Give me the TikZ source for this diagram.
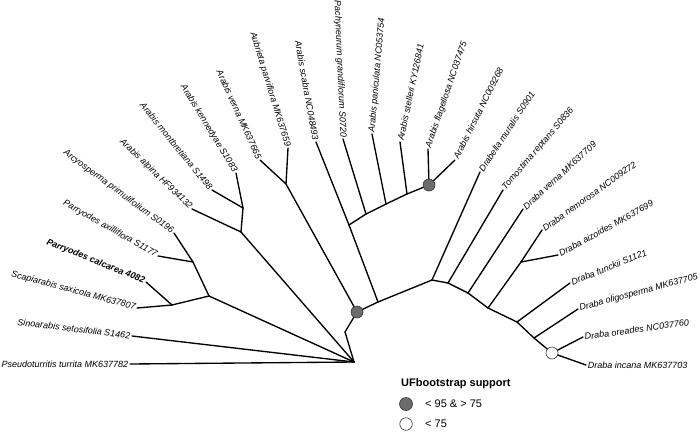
\documentclass[tikz,border=0pt]{standalone}
\usepackage{fontspec}
\setmainfont{Liberation Sans}
\begin{document}
\begin{tikzpicture}[x=1pt,y=-1pt,
  br/.style={line width=1.35pt,line cap=round,line join=round},
  lblL/.style={anchor=east,inner sep=1.6pt,font=\fontsize{9}{10}\selectfont\itshape},
  lblR/.style={anchor=west,inner sep=1.6pt,font=\fontsize{9}{10}\selectfont\itshape},
  greydot/.style={circle,draw=black!80,line width=0.6pt,fill={rgb,255:red,108;green,108;blue,108},minimum size=12pt,inner sep=0pt},
  whitedot/.style={circle,draw=black!80,line width=0.6pt,fill=white,minimum size=12pt,inner sep=0pt}]
\useasboundingbox (0,0) rectangle (700,431);
% internal nodes
\coordinate (R) at (354,362);
\coordinate (A) at (209,296);
\coordinate (A1) at (172,305);
\coordinate (A2) at (193,262);
\coordinate (B) at (241,232);
\coordinate (B1) at (243,208);
\coordinate (D) at (345,332);
\coordinate (G1) at (357,312);
\coordinate (C) at (286,184);
\coordinate (H) at (378,302);
\coordinate (E) at (349,225);
\coordinate (E1) at (366,214);
\coordinate (E2) at (386,204);
\coordinate (E3) at (407,194);
\coordinate (G2) at (429,185);
\coordinate (I) at (432,280);
\coordinate (J1) at (448,283);
\coordinate (J2) at (468,293);
\coordinate (J3) at (488,308);
\coordinate (K) at (521,262);
\coordinate (J4) at (517,322);
\coordinate (J5) at (534,338);
\coordinate (W) at (552,353);
% tips
\coordinate (tPse) at (130,364);
\coordinate (tSin) at (132,336);
\coordinate (tSca) at (137,308);
\coordinate (tPca) at (146,282);
\coordinate (tPax) at (158,256);
\coordinate (tArc) at (174,233);
\coordinate (tAal) at (192,209);
\coordinate (tAmo) at (212,190);
\coordinate (tAke) at (236,173);
\coordinate (tAve) at (260,160);
\coordinate (tAub) at (288,148);
\coordinate (tAsc) at (316,142);
\coordinate (tPac) at (343,139);
\coordinate (tApa) at (372,134);
\coordinate (tAst) at (400,142);
\coordinate (tAfl) at (428,149);
\coordinate (tAhi) at (455,160);
\coordinate (tDmu) at (480,172);
\coordinate (tTre) at (503,190);
\coordinate (tDve) at (523,209);
\coordinate (tDne) at (542,230);
\coordinate (tDai) at (558,255);
\coordinate (tDfu) at (570,283);
\coordinate (tDol) at (578,309);
\coordinate (tDor) at (583,337);
\coordinate (tDin) at (586,365);
% branches
\draw[br] (R) -- (tPse);
\draw[br] (R) -- (tSin);
\draw[br] (R) -- (A);
\draw[br] (A) -- (A1);
\draw[br] (A1) -- (tSca);
\draw[br] (A1) -- (tPca);
\draw[br] (A) -- (A2);
\draw[br] (A2) -- (tPax);
\draw[br] (A2) -- (tArc);
\draw[br] (R) -- (B);
\draw[br] (B) -- (tAal);
\draw[br] (B) -- (B1);
\draw[br] (B1) -- (tAmo);
\draw[br] (B1) -- (tAke);
\draw[br] (R) -- (D);
\draw[br] (D) -- (G1);
\draw[br] (G1) -- (C);
\draw[br] (C) -- (tAve);
\draw[br] (C) -- (tAub);
\draw[br] (G1) -- (H);
\draw[br] (H) -- (E);
\draw[br] (E) -- (tAsc);
\draw[br] (E) -- (E1);
\draw[br] (E1) -- (tPac);
\draw[br] (E1) -- (E2);
\draw[br] (E2) -- (tApa);
\draw[br] (E2) -- (E3);
\draw[br] (E3) -- (tAst);
\draw[br] (E3) -- (G2);
\draw[br] (G2) -- (tAfl);
\draw[br] (G2) -- (tAhi);
\draw[br] (H) -- (I);
\draw[br] (I) -- (tDmu);
\draw[br] (I) -- (J1);
\draw[br] (J1) -- (tTre);
\draw[br] (J1) -- (J2);
\draw[br] (J2) -- (tDve);
\draw[br] (J2) -- (J3);
\draw[br] (J3) -- (K);
\draw[br] (K) -- (tDne);
\draw[br] (K) -- (tDai);
\draw[br] (J3) -- (J4);
\draw[br] (J4) -- (tDfu);
\draw[br] (J4) -- (J5);
\draw[br] (J5) -- (tDol);
\draw[br] (J5) -- (W);
\draw[br] (W) -- (tDor);
\draw[br] (W) -- (tDin);
% support dots
\node[greydot] (dG1) at (G1) {};
\node[greydot] (dG2) at (G2) {};
\node[whitedot] (dW) at (W) {};
% labels
\node[lblL,rotate=0] (lPse) at (tPse) {Pseudoturritis turrita MK637782};
\node[lblL,rotate=-7] (lSin) at (tSin) {Sinoarabis setosifolia S1462};
\node[lblL,rotate=-15] (lSca) at (tSca) {Scapiarabis saxicola MK637807};
\node[lblL,rotate=-22,font=\fontsize{9}{10}\selectfont\bfseries\itshape] (lPca) at (tPca) {Parryodes calcarea 4082};
\node[lblL,rotate=-29.5] (lPax) at (tPax) {Parryodes axilliflora S1177};
\node[lblL,rotate=-36.5] (lArc) at (tArc) {Arcyosperma primulifolium S0196};
\node[lblL,rotate=-44] (lAal) at (tAal) {Arabis alpina HF934132};
\node[lblL,rotate=-51] (lAmo) at (tAmo) {Arabis montbretiana S1498};
\node[lblL,rotate=-58.5] (lAke) at (tAke) {Arabis kennedyae S1083};
\node[lblL,rotate=-65.5] (lAve) at (tAve) {Arabis verna MK637665};
\node[lblL,rotate=-73] (lAub) at (tAub) {Aubrieta parviflora MK637659};
\node[lblL,rotate=-80] (lAsc) at (tAsc) {Arabis scabra NC048493};
\node[lblL,rotate=-87.5] (lPac) at (tPac) {Pachyneurum grandiflorum S0720};
\node[lblR,rotate=85] (lApa) at (tApa) {Arabis paniculata NC053754};
\node[lblR,rotate=78] (lAst) at (tAst) {Arabis stelleri KY126841};
\node[lblR,rotate=71] (lAfl) at (tAfl) {Arabis flagellosa NC037475};
\node[lblR,rotate=63.5] (lAhi) at (tAhi) {Arabis hirsuta NC009268};
\node[lblR,rotate=56.5] (lDmu) at (tDmu) {Drabella muralis S0901};
\node[lblR,rotate=49.5] (lTre) at (tTre) {Tomostima reptans S0836};
\node[lblR,rotate=42.5] (lDve) at (tDve) {Draba verna MK637709};
\node[lblR,rotate=35.5] (lDne) at (tDne) {Draba nemorosa NC009272};
\node[lblR,rotate=29] (lDai) at (tDai) {Draba aizoides MK637699};
\node[lblR,rotate=22] (lDfu) at (tDfu) {Draba funckii S1121};
\node[lblR,rotate=15] (lDol) at (tDol) {Draba oligosperma MK637705};
\node[lblR,rotate=8] (lDor) at (tDor) {Draba oreades NC037760};
\node[lblR,rotate=0] (lDin) at (tDin) {Draba incana MK637703};
% legend
\node[anchor=west,inner sep=0pt,font=\fontsize{11}{12}\selectfont\bfseries] (legT) at (401,384) {UFbootstrap support};
\node[greydot,minimum size=13pt] (legG) at (406,404) {};
\node[anchor=west,inner sep=0pt,font=\fontsize{11}{12}\selectfont] (legGt) at (425,404) {< 95 \& > 75};
\node[whitedot,minimum size=12.5pt] (legW) at (406,424) {};
\node[anchor=west,inner sep=0pt,font=\fontsize{11}{12}\selectfont] (legWt) at (425,424) {< 75};
\end{tikzpicture}
\end{document}
